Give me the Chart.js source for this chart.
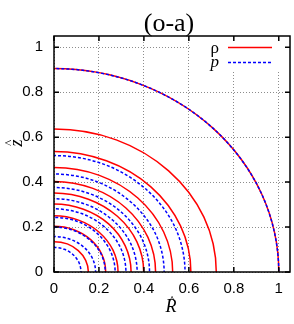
<!DOCTYPE html>
<html>
<head>
<meta charset="utf-8">
<script src="https://cdn.jsdelivr.net/npm/chart.js@4"></script>
<style>
    body { margin: 0; background: white; }
</style>
</head>
<body>
<canvas id="grafico" width="294" height="324"></canvas>
<script>
const titulo = '(o-a)';
const valoresEje = [0, 0.2, 0.4, 0.6, 0.8, 1];

// contornos de densidad (rho), puntos [R, z]
const curvasRho = [
    [[0, 0.135], [0.059, 0.125], [0.108, 0.095], [0.141, 0.052], [0.153, 0]],
    [[0, 0.203], [0.088, 0.188], [0.163, 0.144], [0.213, 0.078], [0.23, 0]],
    [[0, 0.25], [0.109, 0.231], [0.201, 0.177], [0.263, 0.096], [0.285, 0]],
    [[0, 0.302], [0.131, 0.279], [0.243, 0.214], [0.317, 0.116], [0.343, 0]],
    [[0, 0.351], [0.153, 0.324], [0.282, 0.248], [0.369, 0.134], [0.399, 0]],
    [[0, 0.403], [0.173, 0.372], [0.32, 0.285], [0.418, 0.154], [0.452, 0]],
    [[0, 0.465], [0.202, 0.43], [0.373, 0.329], [0.488, 0.178], [0.528, 0]],
    [[0, 0.536], [0.233, 0.495], [0.431, 0.379], [0.563, 0.205], [0.609, 0]],
    [[0, 0.636], [0.277, 0.588], [0.51, 0.45], [0.667, 0.244], [0.722, 0]],
    [[0, 0.905], [0.383, 0.836], [0.707, 0.64], [0.924, 0.347], [1, 0]]
];

// contornos de presion (p)
const curvasPresion = [
    [[0, 0.109], [0.046, 0.101], [0.085, 0.077], [0.111, 0.042], [0.12, 0]],
    [[0, 0.158], [0.071, 0.146], [0.131, 0.112], [0.171, 0.061], [0.185, 0]],
    [[0, 0.2], [0.087, 0.185], [0.161, 0.141], [0.211, 0.077], [0.228, 0]],
    [[0, 0.243], [0.104, 0.225], [0.192, 0.172], [0.251, 0.093], [0.272, 0]],
    [[0, 0.281], [0.123, 0.26], [0.226, 0.199], [0.296, 0.108], [0.32, 0]],
    [[0, 0.326], [0.142, 0.301], [0.262, 0.23], [0.342, 0.125], [0.37, 0]],
    [[0, 0.376], [0.163, 0.347], [0.3, 0.266], [0.393, 0.144], [0.425, 0]],
    [[0, 0.436], [0.188, 0.403], [0.346, 0.308], [0.453, 0.167], [0.49, 0]],
    [[0, 0.518], [0.223, 0.479], [0.412, 0.366], [0.539, 0.198], [0.583, 0]],
    [[0, 0.905], [0.383, 0.836], [0.707, 0.64], [0.924, 0.347], [1, 0]]
];

const colorRho = '#ff0000';
const colorPresion = '#0000ff';

function crearDataset(puntos, color, guiones, orden) {
    // se agrega el reflejo sobre cada eje para que la curva cruce los ejes en angulo recto
    const primero = puntos[1];
    const penultimo = puntos[puntos.length - 2];
    const lista = [[-primero[0], primero[1]], ...puntos, [penultimo[0], -penultimo[1]]];
    return {
        data: lista.map(p => ({x: p[0], y: p[1]})),
        showLine: true,
        borderColor: color,
        borderWidth: 1.5,
        borderDash: guiones,
        pointRadius: 0,
        tension: 0.34,
        order: orden
    };
}

const datasets = [];
curvasRho.forEach(c => datasets.push(crearDataset(c, colorRho, [], 1)));
curvasPresion.forEach(c => datasets.push(crearDataset(c, colorPresion, [3, 2], 0)));

const marco = {
    id: 'marco',
    afterDraw(chart) {
        const ctx = chart.ctx;
        const area = chart.chartArea;
        const ejeX = chart.scales.x;
        const ejeY = chart.scales.y;

        // leyenda
        ctx.save();
        ctx.fillStyle = 'white';
        ctx.fillRect(192, 37, 92, 34);
        ctx.fillStyle = 'black';
        ctx.textAlign = 'right';
        ctx.textBaseline = 'alphabetic';
        ctx.font = '17px "Liberation Serif"';
        ctx.fillText('ρ', 219, 53);
        ctx.font = 'italic 17px "Liberation Serif"';
        ctx.fillText('p', 219, 67);
        ctx.lineWidth = 1.5;
        ctx.strokeStyle = colorRho;
        ctx.beginPath();
        ctx.moveTo(228, 47.5);
        ctx.lineTo(272, 47.5);
        ctx.stroke();
        ctx.strokeStyle = colorPresion;
        ctx.setLineDash([3, 2]);
        ctx.beginPath();
        ctx.moveTo(228, 62.5);
        ctx.lineTo(272, 62.5);
        ctx.stroke();
        ctx.setLineDash([]);

        // marcas hacia adentro y borde
        ctx.strokeStyle = 'black';
        ctx.lineWidth = 1.5;
        ctx.beginPath();
        valoresEje.forEach(v => {
            const px = ejeX.getPixelForValue(v);
            const py = ejeY.getPixelForValue(v);
            ctx.moveTo(px, area.bottom); ctx.lineTo(px, area.bottom - 5);
            ctx.moveTo(px, area.top); ctx.lineTo(px, area.top + 5);
            ctx.moveTo(area.left, py); ctx.lineTo(area.left + 5, py);
            ctx.moveTo(area.right, py); ctx.lineTo(area.right - 5, py);
        });
        ctx.stroke();
        ctx.strokeRect(area.left, area.top, area.right - area.left, area.bottom - area.top);

        // titulo y etiquetas de ejes
        ctx.textAlign = 'center';
        ctx.font = '26px "Liberation Serif"';
        ctx.fillText(titulo, 169, 31);

        ctx.font = 'italic 18px "Liberation Serif"';
        ctx.fillText('R', 171, 312);
        ctx.font = '13px "Liberation Serif"';
        ctx.fillText('^', 172, 304);

        ctx.translate(22, 143);
        ctx.rotate(-Math.PI / 2);
        ctx.font = 'italic 18px "Liberation Serif"';
        ctx.fillText('z', 0, 0);
        ctx.font = '13px "Liberation Serif"';
        ctx.fillText('^', 0, -9);
        ctx.restore();
    }
};

const opcionesEje = () => ({
    type: 'linear',
    min: 0,
    max: 1.05,
    grid: { color: '#8c8c8c', lineWidth: 1, drawTicks: false },
    border: { display: false, dash: [1, 2] },
    ticks: {
        stepSize: 0.2,
        includeBounds: false,
        color: 'black',
        font: { family: '"Liberation Sans"', size: 15 },
        callback: v => String(Math.round(v * 10) / 10)
    }
});

const opcionesX = opcionesEje();
opcionesX.position = 'bottom';
opcionesX.ticks.padding = 8;
opcionesX.afterFit = eje => { eje.height = 52; };

const opcionesY = opcionesEje();
opcionesY.position = 'left';
opcionesY.ticks.padding = 11;
opcionesY.afterFit = eje => { eje.width = 54; };

new Chart(document.querySelector('#grafico'), {
    type: 'scatter',
    data: { datasets },
    options: {
        responsive: false,
        animation: false,
        devicePixelRatio: 1,
        elements: { line: { capBezierPoints: false } },
        layout: { padding: { top: 36, right: 4, left: 0, bottom: 0 } },
        plugins: { legend: { display: false }, tooltip: { enabled: false } },
        scales: { x: opcionesX, y: opcionesY }
    },
    plugins: [marco]
});
</script>
</body>
</html>
